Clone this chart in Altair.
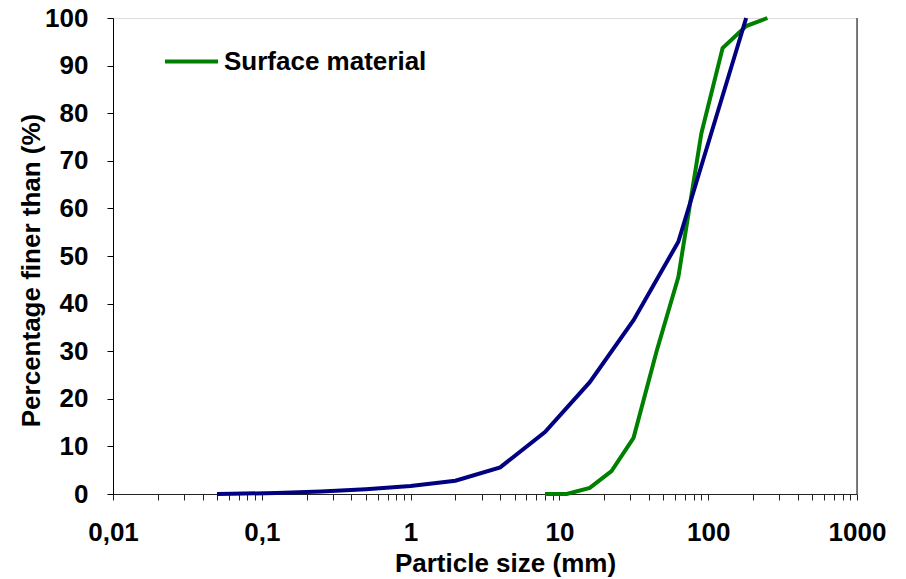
import altair as alt
import pandas as pd

# Surface material (green)
surf_size = [8, 11.2, 16, 22.4, 31.5, 45, 63, 90, 125, 180, 250]
surf_pct = [0, 0, 1.3, 4.8, 11.8, 30, 45.6, 75.8, 93.7, 98.3, 100]

# Second series (navy, not in legend)
sub_size = [0.05, 0.063, 0.125, 0.25, 0.5, 1, 2, 4, 8, 16, 31.5, 63, 180]
sub_pct = [0, 0.05, 0.2, 0.5, 1.0, 1.7, 2.8, 5.6, 13, 23.5, 36.5, 53, 100]

x_major = [0.01, 0.1, 1, 10, 100, 1000]
y_ticks = list(range(0, 101, 10))

SURF = "Surface material"
SUB = "Subsurface material"
GREEN = "#008000"
NAVY = "#000080"

surf_df = pd.DataFrame({"size": surf_size, "pct": surf_pct, "series": SURF})
sub_df = pd.DataFrame({"size": sub_size, "pct": sub_pct, "series": SUB})

x_vals = []
for m in x_major[:-1]:
    for d in range(1, 10):
        x_vals.append(round(m * d, 6))
x_vals.append(1000)

FONT = "Liberation Sans"
FS = 26

x_enc = alt.X(
    "size:Q",
    scale=alt.Scale(type="log", domain=[0.01, 1000], nice=False),
    axis=alt.Axis(
        values=x_vals,
        labelExpr="indexof([0.01,0.1,1,10,100,1000], datum.value) >= 0 ? replace(toString(datum.value), '.', ',') : ''",
        grid=False,
        tickSize=6,
        tickColor="#222222",
        domainColor="#222222",
        labelPadding=19,
        labelFlush=False,
        labelFontSize=FS,
        labelFontWeight="bold",
        labelFont=FONT,
        labelColor="black",
        title="Particle size (mm)",
        titleFontSize=FS,
        titleFontWeight="bold",
        titleFont=FONT,
        titleColor="black",
        titleX=392,
        titleY=77,
        titleBaseline="alphabetic",
    ),
)
y_enc = alt.Y(
    "pct:Q",
    scale=alt.Scale(domain=[0, 100], nice=False),
    axis=alt.Axis(
        values=y_ticks,
        grid=False,
        tickSize=6,
        tickColor="black",
        domainColor="black",
        labelPadding=19,
        labelFlush=False,
        labelFontSize=FS,
        labelFontWeight="bold",
        labelFont=FONT,
        labelColor="black",
        title="Percentage finer than (%)",
        titleFontSize=FS,
        titleFontWeight="bold",
        titleFont=FONT,
        titleColor="black",
        titleX=-82,
        titleY=252,
        titleBaseline="middle",
    ),
)
color_enc = alt.Color(
    "series:N",
    scale=alt.Scale(domain=[SURF, SUB], range=[GREEN, NAVY]),
    legend=alt.Legend(
        values=[SURF],
        title=None,
        orient="none",
        legendX=50,
        legendY=15,
        symbolType="stroke",
        symbolSize=2809,
        symbolStrokeWidth=4,
        labelFontSize=FS,
        labelFontWeight="bold",
        labelFont=FONT,
        labelColor="black",
        labelOffset=4,
        labelLimit=0,
    ),
)

green = alt.Chart(surf_df).mark_line(strokeWidth=4).encode(x=x_enc, y=y_enc, color=color_enc)
navy = alt.Chart(sub_df).mark_line(strokeWidth=4).encode(x=x_enc, y=y_enc, color=color_enc)

right_border = alt.Chart(pd.DataFrame({"a": [0]})).mark_rule(color="black", strokeWidth=1).encode(
    x=alt.datum(1000), y=alt.datum(0), y2=alt.datum(100)
)

chart = (
    alt.layer(green, navy, right_border)
    .properties(
        width=744,
        height=476,
        autosize=alt.AutoSizeParams(type="none"),
        padding={"left": 105, "top": 10, "right": 41, "bottom": 85},
    )
    .configure_view(stroke="#808080", strokeWidth=1)
    .configure(background="white")
)

chart.save("out.html", embed_options={"renderer": "svg", "actions": False})
